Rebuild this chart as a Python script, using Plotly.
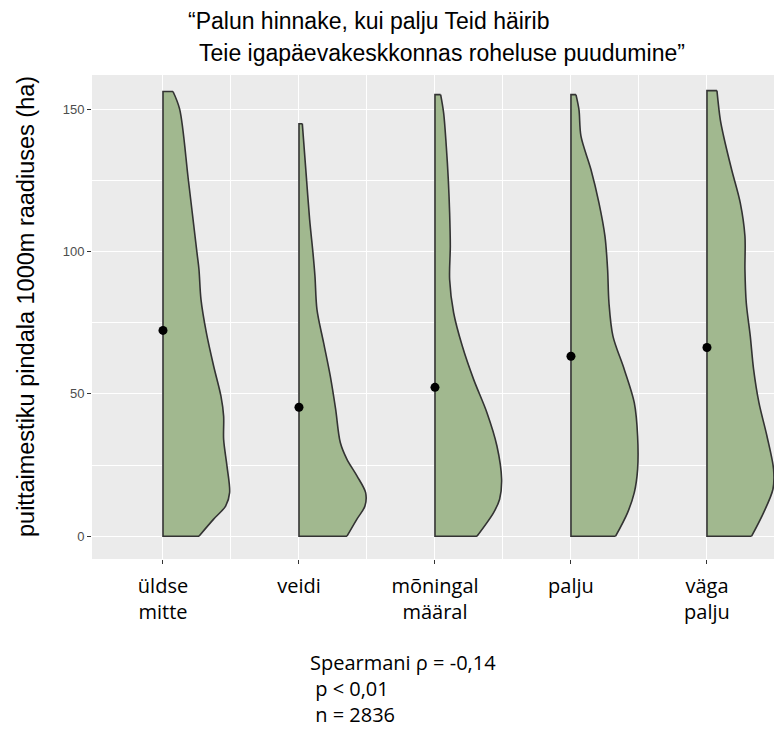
import plotly.graph_objects as go

categories = ["üldse<br>mitte", "veidi", "mõningal<br>määral", "palju", "väga<br>palju"]

# outline of each half-violin: y levels (ha) and relative density width (max = 1)
v1_y = [0, 6, 10.6, 15.3, 24.7, 34, 42.2, 49.2, 59.8, 71.6, 83.2, 93.7, 99.6, 125.3, 150, 156.2]
v1_w = [0.54, 0.76, 0.94, 1.0, 0.96, 0.91, 0.91, 0.87, 0.76, 0.65, 0.57, 0.54, 0.51, 0.38, 0.25, 0.15]

v2_y = [0, 6, 10.6, 15.3, 21.2, 27, 32.9, 44.6, 56.2, 67.9, 79.6, 91.3, 99.5, 111.2, 126.4, 144.9]
v2_w = [0.72, 0.87, 0.99, 1.0, 0.87, 0.72, 0.62, 0.55, 0.47, 0.37, 0.27, 0.24, 0.21, 0.16, 0.11, 0.05]

v3_y = [0, 8.3, 13, 20, 31.7, 43.4, 55.1, 66.8, 78.5, 90.2, 101.9, 113.6, 125.3, 136.9, 148.7, 155.1]
v3_w = [0.63, 0.88, 0.97, 1.0, 0.93, 0.78, 0.58, 0.41, 0.28, 0.22, 0.23, 0.22, 0.20, 0.17, 0.13, 0.085]

v4_y = [0, 8.3, 15.3, 23.5, 35.2, 46.9, 58.6, 70.3, 82, 93.7, 105.4, 117.1, 128.8, 140.5, 149.8, 155.1]
v4_w = [0.67, 0.85, 0.95, 1.0, 1.0, 0.95, 0.80, 0.63, 0.57, 0.55, 0.51, 0.42, 0.30, 0.15, 0.12, 0.075]

v5_y = [0, 8.3, 16.5, 23.5, 35.2, 46.9, 58.6, 70.3, 82, 93.7, 105.4, 117.1, 128.8, 140.5, 146.3, 156.5]
v5_w = [0.67, 0.85, 0.99, 1.0, 0.9, 0.78, 0.70, 0.65, 0.59, 0.57, 0.57, 0.50, 0.37, 0.25, 0.20, 0.15]

means = [72.3, 45.3, 52.3, 63.2, 66.3]

ys = [v1_y, v2_y, v3_y, v4_y, v5_y]
ws = [v1_w, v2_w, v3_w, v4_w, v5_w]

HALF = 0.49
FILL = "#A1B88F"
EDGE = "#333333"

fig = go.Figure()
for i, (yv, wv) in enumerate(zip(ys, ws)):
    c = i + 1
    # straight edges: bottom, left side, top
    fig.add_trace(go.Scatter(
        x=[c + wv[0] * HALF, c, c, c + wv[-1] * HALF],
        y=[yv[0], yv[0], yv[-1], yv[-1]],
        mode="lines", line=dict(color=EDGE, width=1.6),
        hoverinfo="skip", showlegend=False))
    # curved density side, filled back to the straight edges
    fig.add_trace(go.Scatter(
        x=[c + w * HALF for w in wv], y=yv, mode="lines", fill="tonext", fillcolor=FILL,
        line=dict(color=EDGE, width=1.6, shape="spline", smoothing=0.9),
        hoverinfo="skip", showlegend=False))

fig.add_trace(go.Scatter(
    x=[1, 2, 3, 4, 5], y=means, mode="markers",
    marker=dict(color="black", size=9), showlegend=False))

fig.update_layout(
    width=774, height=732,
    margin=dict(l=92, r=0, t=75, b=173),
    paper_bgcolor="white", plot_bgcolor="#EBEBEB",
    font=dict(family="Liberation Sans, Arial", color="black"),
    xaxis=dict(
        range=[0.478, 5.493], tickmode="array", tickvals=[1, 2, 3, 4, 5], ticktext=categories,
        showgrid=True, gridcolor="white", gridwidth=1.1, zeroline=False, automargin=False,
        ticks="outside", ticklen=4, tickcolor="#333333", ticklabelstandoff=5,
        tickfont=dict(family="Open Sans", size=20, color="black"),
        minor=dict(tickvals=[1.5, 2.5, 3.5, 4.5], showgrid=True, gridcolor="white", gridwidth=0.5, ticks=""),
    ),
    yaxis=dict(
        range=[-8, 162], tickvals=[0, 50, 100, 150],
        showgrid=True, gridcolor="white", gridwidth=1.1, zeroline=False, automargin=False,
        ticks="outside", ticklen=4, tickcolor="#333333",
        tickfont=dict(family="Liberation Sans", size=13, color="#4D4D4D"),
        minor=dict(tickvals=[25, 75, 125], showgrid=True, gridcolor="white", gridwidth=0.5, ticks=""),
    ),
)

# y axis title (placed to match the reference's vertical offset)
fig.add_annotation(text="puittaimestiku pindala 1000m raadiuses (ha)", xref="paper", yref="paper",
                   x=(26 - 92) / 682, y=(559 - 307) / 484, xanchor="center", yanchor="middle",
                   textangle=-90, showarrow=False,
                   font=dict(family="Liberation Sans", size=23.5, color="black"))
fig.add_annotation(text="“Palun hinnake, kui palju Teid häirib", xref="paper", yref="paper",
                   x=(186 - 92) / 682, y=1 + (75 - 21) / 484, xanchor="left", yanchor="middle",
                   showarrow=False, font=dict(family="Liberation Sans", size=23, color="black"))
fig.add_annotation(text="Teie igapäevakeskkonnas roheluse puudumine”", xref="paper", yref="paper",
                   x=(197 - 92) / 682, y=1 + (75 - 53) / 484, xanchor="left", yanchor="middle",
                   showarrow=False, font=dict(family="Liberation Sans", size=23, color="black"))
fig.add_annotation(text="Spearmani ρ = -0,14<br> p < 0,01<br> n = 2836", xref="paper", yref="paper",
                   x=(308 - 92) / 682, y=(559 - 688) / 484, xanchor="left", yanchor="middle",
                   align="left", showarrow=False,
                   font=dict(family="Open Sans", size=20, color="black"))

fig.write_html("out.html", config={"displayModeBar": False},
               post_script="document.body.style.margin='0px';document.body.style.padding='0px';")
